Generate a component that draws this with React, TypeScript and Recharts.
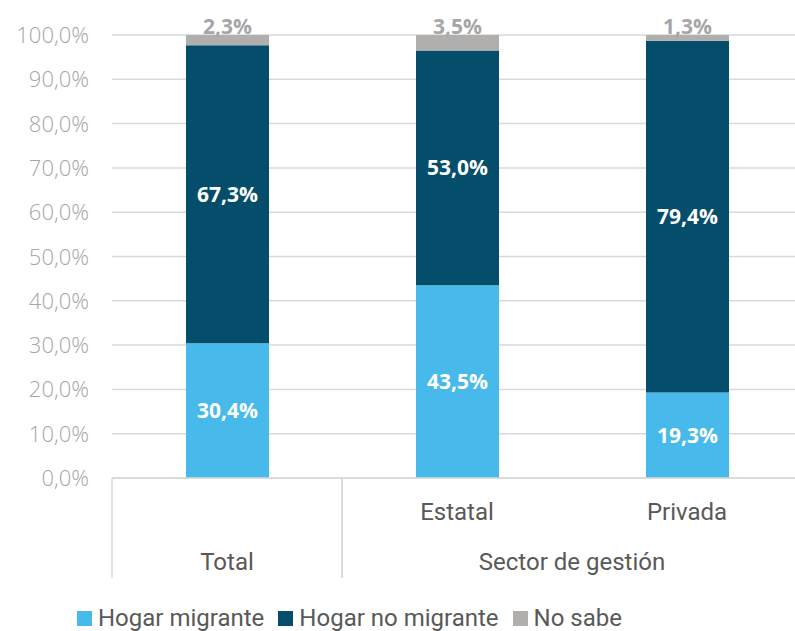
import React from "react";
import { BarChart, Bar, XAxis, YAxis, CartesianGrid, LabelList } from "recharts";

const categories = ["Total", "Estatal", "Privada"];
const groups = ["", "Sector de gestión", "Sector de gestión"];
const hogarMigrante = [30.4, 43.5, 19.3];
const hogarNoMigrante = [67.3, 53.0, 79.4];
const noSabe = [2.3, 3.5, 1.3];
const yTicks = [0, 10, 20, 30, 40, 50, 60, 70, 80, 90, 100];

const series = [
  { key: "migrante", name: "Hogar migrante", color: "#47BAEB" },
  { key: "noMigrante", name: "Hogar no migrante", color: "#044D6B" },
  { key: "noSabe", name: "No sabe", color: "#B0AFAE" },
];

const data = categories.map((name, i) => ({
  name,
  group: groups[i],
  migrante: hogarMigrante[i],
  noMigrante: hogarNoMigrante[i],
  noSabe: noSabe[i],
}));

const WIDTH = 802;
const HEIGHT = 631;
const Y_W = 112;
const X_H = 100;
const MARGIN = { top: 35, right: 0, bottom: 53, left: 0 };
const PLOT_BOTTOM = HEIGHT - MARGIN.bottom - X_H;
const BAND = (WIDTH - Y_W - MARGIN.right) / categories.length;

const LINE = "#D9D9D9";
const TEXT = "#595959";
const TICK = "#A6A6A6";

const fmt = (v: number) => v.toFixed(1).replace(".", ",") + "%";

const PctTick = (props: any) => {
  const { y, payload } = props;
  return (
    <text
      x={Y_W - 23}
      y={y}
      dy={8}
      textAnchor="end"
      fill={TICK}
      fontFamily="'Open Sans'"
      fontWeight={300}
      fontSize={22}
    >
      {fmt(payload.value)}
    </text>
  );
};

const CategoryTick = (props: any) => {
  const { x, index, payload } = props;
  const half = BAND / 2;
  const d = data[index];
  const prev = index > 0 ? data[index - 1].group : null;
  const next = index < data.length - 1 ? data[index + 1].group : null;
  const row1 = PLOT_BOTTOM + 42;
  const row2 = PLOT_BOTTOM + 92;
  const out: React.ReactNode[] = [];
  if (index === 0 || prev !== d.group) {
    out.push(<line key="l" x1={x - half} x2={x - half} y1={PLOT_BOTTOM} y2={PLOT_BOTTOM + X_H} stroke={LINE} strokeWidth={1.5} />);
  }
  if (next !== d.group) {
    out.push(<line key="r" x1={x + half} x2={x + half} y1={PLOT_BOTTOM} y2={PLOT_BOTTOM + X_H} stroke={LINE} strokeWidth={1.5} />);
  }
  const style = { fill: TEXT, fontFamily: "Roboto", fontSize: 24 };
  if (d.group === "") {
    out.push(<text key="t" x={x} y={row2} textAnchor="middle" {...style}>{payload.value}</text>);
  } else {
    out.push(<text key="t" x={x} y={row1} textAnchor="middle" {...style}>{payload.value}</text>);
    if (prev !== d.group) {
      let n = 0;
      while (index + n < data.length && data[index + n].group === d.group) n++;
      const cx = x - half + (n * BAND) / 2;
      out.push(<text key="g" x={cx} y={row2} textAnchor="middle" {...style}>{d.group}</text>);
    }
  }
  return <g>{out}</g>;
};

const InsideLabel = (props: any) => {
  const { x, y, width, height, value } = props;
  return (
    <text
      x={x + width / 2}
      y={y + height / 2}
      dy={7.5}
      textAnchor="middle"
      fill="#FFFFFF"
      fontFamily="'Open Sans'"
      fontWeight={700}
      fontSize={21}
    >
      {fmt(value)}
    </text>
  );
};

const TopLabel = (props: any) => {
  const { x, y, width, value } = props;
  return (
    <text
      x={x + width / 2}
      y={y - 1}
      textAnchor="middle"
      fill={TICK}
      fontFamily="'Open Sans'"
      fontWeight={700}
      fontSize={21}
    >
      {fmt(value)}
    </text>
  );
};

export default function App() {
  return (
    <div style={{ position: "absolute", left: 0, top: 0, width: 795, height: 631, overflow: "hidden", background: "#fff" }}>
      <BarChart width={WIDTH} height={HEIGHT} data={data} margin={MARGIN} barSize={83}>
        <CartesianGrid vertical={false} stroke={LINE} strokeWidth={1.5} />
        <XAxis
          dataKey="name"
          height={X_H}
          interval={0}
          tickLine={false}
          axisLine={{ stroke: LINE, strokeWidth: 1.5 }}
          tick={<CategoryTick />}
        />
        <YAxis
          width={Y_W}
          domain={[0, 100]}
          ticks={yTicks}
          axisLine={false}
          tickLine={false}
          tick={<PctTick />}
        />
        <Bar dataKey="migrante" stackId="a" fill={series[0].color} isAnimationActive={false}>
          <LabelList dataKey="migrante" content={<InsideLabel />} />
        </Bar>
        <Bar dataKey="noMigrante" stackId="a" fill={series[1].color} isAnimationActive={false}>
          <LabelList dataKey="noMigrante" content={<InsideLabel />} />
        </Bar>
        <Bar dataKey="noSabe" stackId="a" fill={series[2].color} isAnimationActive={false}>
          <LabelList dataKey="noSabe" content={<TopLabel />} />
        </Bar>
      </BarChart>
      <div
        style={{
          position: "absolute",
          left: 77,
          top: 606,
          display: "flex",
          alignItems: "center",
          fontFamily: "Roboto",
          fontSize: 24,
          color: TEXT,
          lineHeight: "24px",
          whiteSpace: "nowrap",
        }}
      >
        {series.map((s) => (
          <div key={s.key} style={{ display: "flex", alignItems: "center", marginRight: 14 }}>
            <span style={{ display: "inline-block", width: 15, height: 15, background: s.color, marginRight: 6, marginTop: 1 }} />
            <span>{s.name}</span>
          </div>
        ))}
      </div>
    </div>
  );
}
